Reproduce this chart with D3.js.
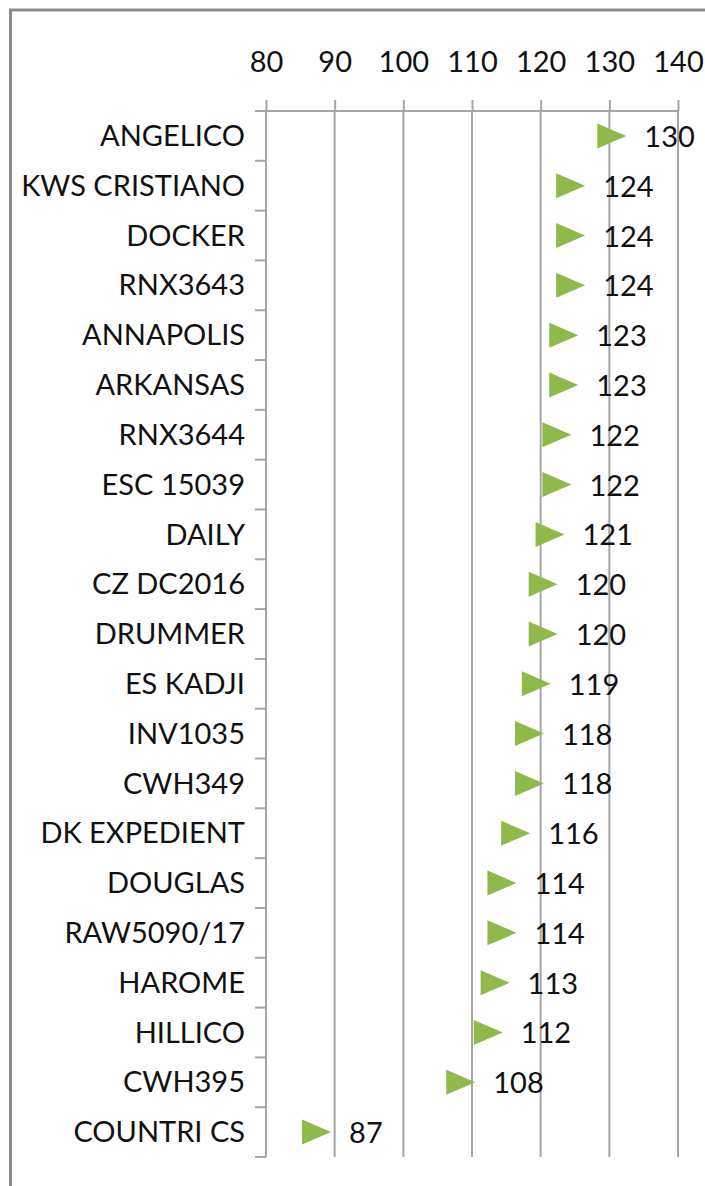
<!DOCTYPE html>
<html>
<head>
<meta charset="utf-8">
<script src="https://cdn.jsdelivr.net/npm/d3@7"></script>
<style>
  body { margin: 0; background: #fff; }
  svg text { font-family: Lato, "Open Sans", sans-serif; fill: #111; }
</style>
</head>
<body>
<svg width="705" height="1186"></svg>
<script>
const varieties = ['ANGELICO', 'KWS CRISTIANO', 'DOCKER', 'RNX3643', 'ANNAPOLIS', 'ARKANSAS',
  'RNX3644', 'ESC 15039', 'DAILY', 'CZ DC2016', 'DRUMMER', 'ES KADJI', 'INV1035', 'CWH349',
  'DK EXPEDIENT', 'DOUGLAS', 'RAW5090/17', 'HAROME', 'HILLICO', 'CWH395', 'COUNTRI CS'];
const scores = [130, 124, 124, 124, 123, 123, 122, 122, 121, 120, 120, 119, 118, 118,
  116, 114, 114, 113, 112, 108, 87];
const xTicks = [80, 90, 100, 110, 120, 130, 140];

(function (d3) {
  'use strict';

  const svg = d3.select('svg');

  // outer chart frame
  svg.append('rect')
    .attr('x', 10.5).attr('y', 10)
    .attr('width', 720).attr('height', 1200)
    .attr('fill', 'none')
    .attr('stroke', '#8c8c8c')
    .attr('stroke-width', 3);

  const margin = { top: 111, left: 266 };
  const innerWidth = 678 - 266;
  const innerHeight = 1157 - 111;

  const data = varieties.map((name, i) => ({ name, score: scores[i] }));

  const xScale = d3.scaleLinear()
    .domain([80, 140])
    .range([0, innerWidth]);

  const yScale = d3.scaleBand()
    .domain(varieties)
    .range([0, innerHeight]);

  const g = svg.append('g')
    .attr('transform', `translate(${margin.left},${margin.top})`);

  // gridlines
  g.selectAll('.grid').data(xTicks)
    .enter().append('line')
      .attr('class', 'grid')
      .attr('x1', d => xScale(d)).attr('x2', d => xScale(d))
      .attr('y1', 0).attr('y2', innerHeight)
      .attr('stroke', '#a6a6a6')
      .attr('stroke-width', 2);

  // top axis
  const xAxis = d3.axisTop(xScale)
    .tickValues(xTicks)
    .tickSize(11)
    .tickPadding(28);
  const xAxisG = g.append('g').call(xAxis);
  xAxisG.selectAll('line, .domain').attr('stroke', '#a6a6a6').attr('stroke-width', 2);
  xAxisG.select('.domain').attr('d', `M0,0H${innerWidth}`);
  xAxisG.selectAll('text').attr('font-size', 29).attr('fill', '#111');

  // left axis: ticks between categories
  const bounds = d3.range(varieties.length + 1).map(i => i * yScale.step());
  const yAxisG = g.append('g');
  yAxisG.append('line')
    .attr('x1', 0).attr('x2', 0).attr('y1', 0).attr('y2', innerHeight)
    .attr('stroke', '#a6a6a6').attr('stroke-width', 2);
  yAxisG.selectAll('.ytick').data(bounds)
    .enter().append('line')
      .attr('class', 'ytick')
      .attr('x1', -11).attr('x2', 0)
      .attr('y1', d => d).attr('y2', d => d)
      .attr('stroke', '#a6a6a6').attr('stroke-width', 2);
  yAxisG.selectAll('text').data(varieties)
    .enter().append('text')
      .attr('x', -21)
      .attr('y', d => yScale(d) + yScale.bandwidth() / 2)
      .attr('dy', '0.35em')
      .attr('text-anchor', 'end')
      .attr('font-size', 29)
      .text(d => d);

  // triangle markers
  const tri = 'M-12,-12.5L-12,12.5L17,0Z';
  g.selectAll('.marker').data(data)
    .enter().append('path')
      .attr('class', 'marker')
      .attr('d', tri)
      .attr('transform', d => `translate(${xScale(d.score)},${yScale(d.name) + yScale.bandwidth() / 2})`)
      .attr('fill', '#8fb94b');

  // value labels
  g.selectAll('.value').data(data)
    .enter().append('text')
      .attr('class', 'value')
      .attr('x', d => xScale(d.score) + 35)
      .attr('y', d => yScale(d.name) + yScale.bandwidth() / 2)
      .attr('dy', '0.38em')
      .attr('font-size', 29)
      .text(d => d.score);

}(d3));
</script>
</body>
</html>
